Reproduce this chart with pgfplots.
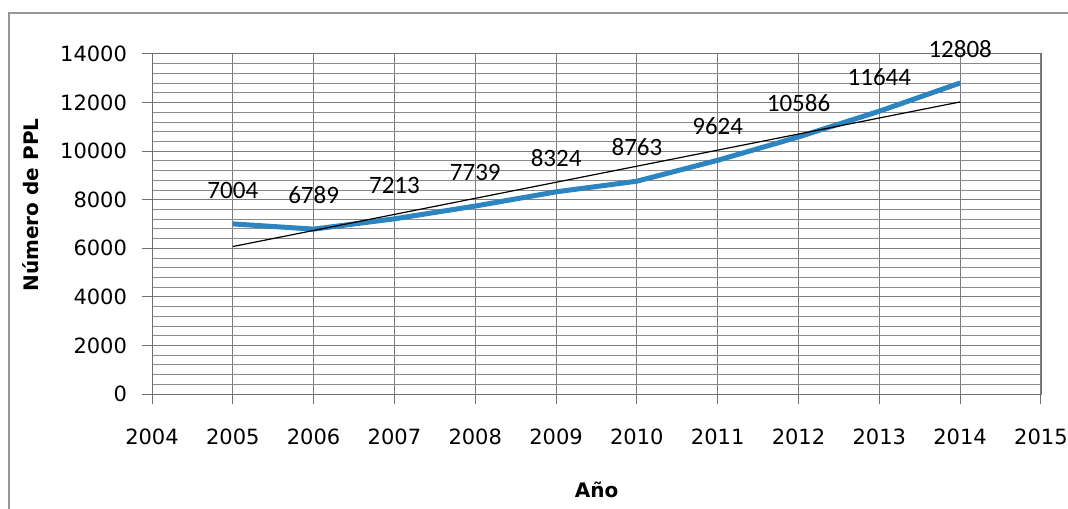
\documentclass[border=0pt]{standalone}
\usepackage{pgfplots}
\pgfplotsset{compat=1.18}
\usepackage{fontspec}
\setmainfont{DejaVu Sans}
\newfontfamily\lab{Carlito}
\definecolor{serie}{RGB}{44,132,192}
\definecolor{gridc}{RGB}{125,125,125}
\begin{document}
\begin{tikzpicture}[x=1pt,y=1pt]
\useasboundingbox (0,0) rectangle (534,254);
\draw[gridc!80, line width=0.6pt] (4.5,-2) -- (4.5,247.5) -- (540,247.5);
\begin{axis}[
 at={(76pt,57pt)}, anchor=south west, scale only axis,
 width=444.5pt, height=170pt,
 xmin=2004, xmax=2015, ymin=0, ymax=14000,
 xtick={2004,...,2015}, ytick={0,2000,...,14000}, minor y tick num=4,
 scaled y ticks=false, scaled x ticks=false,
 grid=both,
 major grid style={gridc, line width=0.5pt},
 minor grid style={gridc!90, line width=0.4pt},
 axis line style={gridc!90!black, line width=0.5pt},
 tick style={gridc!90!black, line width=0.5pt},
 tick align=outside, tick pos=left,
 major tick length=5pt, minor tick length=0pt,
 /pgf/number format/1000 sep={},
 /pgf/number format/assume math mode=true,
 ticklabel style={font=\fontsize{10.5}{12}\selectfont},
 xticklabel style={yshift=-9pt},
 yticklabel style={xshift=-4pt},
 every axis x label/.style={at={(axis description cs:0.5,0)}, yshift=-48pt, anchor=center, font=\bfseries\fontsize{10}{12}\selectfont},
 every axis y label/.style={at={(axis description cs:-0.137,0.556)}, rotate=90, anchor=center, font=\bfseries\fontsize{10}{12}\selectfont},
 xlabel={Año}, ylabel={Número de PPL},
 clip=false,
]
\addplot[serie, line width=2.5pt, line join=round,
  nodes near coords={\lab\fontsize{12.5}{14}\selectfont\pgfmathprintnumber[1000 sep={},assume math mode=true]{\pgfplotspointmeta}},
  every node near coord/.append style={black, yshift=8pt}]
 coordinates {(2005,7004) (2006,6789) (2007,7213) (2008,7739) (2009,8324) (2010,8763) (2011,9624) (2012,10586) (2013,11644) (2014,12808)};
\addplot[black, line width=0.6pt] coordinates {(2005,6072) (2014,12027)};
\end{axis}
\end{tikzpicture}
\end{document}
